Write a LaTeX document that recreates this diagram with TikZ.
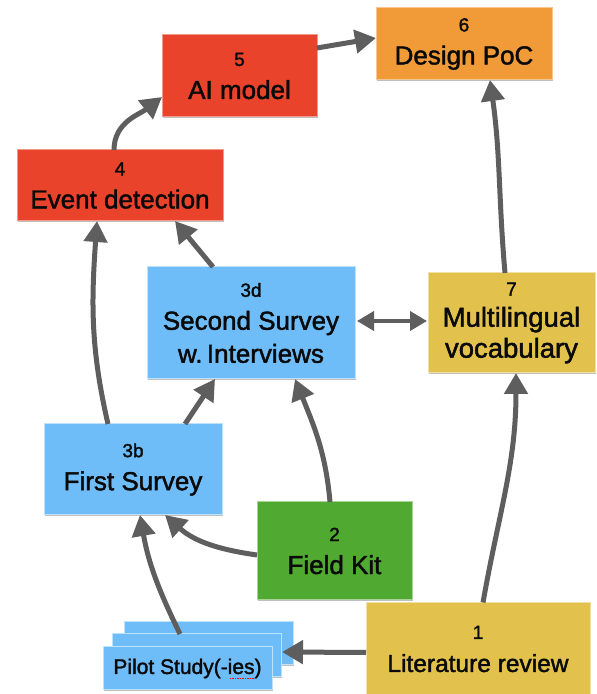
\documentclass[tikz,border=0pt]{standalone}
\usepackage{fontspec}
\setmainfont{Liberation Sans}[FakeBold=1.7]
\usetikzlibrary{arrows.meta,calc,shadows}
\definecolor{cred}{HTML}{E9432B}
\definecolor{corange}{HTML}{F19A38}
\definecolor{cblue}{HTML}{6FBDF8}
\definecolor{cyellow}{HTML}{E2C24C}
\definecolor{cgreen}{HTML}{50AA32}
\definecolor{cgray}{HTML}{5E5E5E}
\definecolor{ctext}{HTML}{0A0A0A}
\newcommand\nlabel[1]{{\fontsize{19}{23}\selectfont #1}}
\frenchspacing
\tikzset{
  box/.style={rectangle, inner sep=0pt, outer sep=0pt, align=center, text=ctext,
    line width=1pt, font=\fontsize{26}{33}\selectfont,
    drop shadow={shadow xshift=0.8pt, shadow yshift=-1.4pt, opacity=0.25, fill=black}},
  redbox/.style={box, fill=cred, draw=cred!55!white},
  orangebox/.style={box, fill=corange, draw=corange!55!white},
  bluebox/.style={box, fill=cblue, draw=cblue!45!white},
  yellowbox/.style={box, fill=cyellow, draw=cyellow!50!white},
  greenbox/.style={box, fill=cgreen, draw=cgreen!50!white},
  pilotbox/.style={bluebox, minimum width=169pt, minimum height=43pt, font=\fontsize{21}{25}\selectfont},
  arr/.style={draw=cgray, line width=5pt, -{Triangle[length=21pt,width=23pt]}},
  darr/.style={draw=cgray, line width=4pt, {Triangle[length=17pt,width=19pt]}-{Triangle[length=17pt,width=19pt]}}
}
\begin{document}
\begin{tikzpicture}[x=1pt,y=1pt]
\useasboundingbox (0,0) rectangle (597,694);
\fill[white] (0,0) rectangle (597,694);

% main boxes
\node[orangebox, minimum width=176pt, minimum height=72pt] (n6) at (464,650) {\nlabel{6}\\Design PoC};
\node[redbox, minimum width=155pt, minimum height=82pt] (n5) at (239.5,618) {\nlabel{5}\\AI model};
\node[redbox, minimum width=206pt, minimum height=71pt] (n4) at (120,508.5) {\nlabel{4}\\Event detection};
\node[bluebox, minimum width=208pt, minimum height=112pt] (n3d) at (251,371) {\nlabel{3d}\\Second Survey\\w.\,Interviews};
\node[yellowbox, minimum width=167pt, minimum height=100pt, font=\fontsize{27.5}{31}\selectfont] (n7) at (511.5,371) {\nlabel{7}\\Multilingual\\vocabulary};
\node[bluebox, minimum width=178pt, minimum height=91pt] (n3b) at (133,224.5) {\nlabel{3b}\\First Survey};
\node[greenbox, minimum width=155pt, minimum height=98pt] (n2) at (334.5,143) {\nlabel{2}\\Field Kit};
\node[yellowbox, minimum width=224pt, minimum height=93pt, font=\fontsize{24.5}{33}\selectfont] (n1) at (478,45) {\nlabel{1}\\Literature review};

% pilot stack
\node[pilotbox] (pb) at (209,51) {};
\node[pilotbox] (pm) at (196.5,38.5) {};
\node[pilotbox] (pf) at (187.5,25.5) {Pilot Study(-ies)};
\draw[red, line width=1pt, dash pattern=on 1.5pt off 1pt] ($(pf.center)+(42,-10)$) -- ++(26,0);

% connectors
\draw[arr] ($(n5.east)+(0,28)$) -- ($(n6.west)+(0,6)$);
\draw[arr] ($(n4.north)+(-6,0)$) to[out=90,in=218] ($(n5.west)+(0,-21)$);
\draw[arr] ($(n3d.north)+(-38,0)$) -- ($(n4.south)+(55,0)$);
\draw[arr] ($(n3b.north)+(-25,0)$) to[out=103,in=266] ($(n4.south)+(-23,0)$);
\draw[arr] ($(n3b.north)+(52,0)$) -- ($(n3d.south)+(-36,0)$);
\draw[darr] ($(n3d.east)+(2,2)$) -- ($(n7.west)+(-1,2)$);
\draw[arr] ($(n7.north)+(-6.5,0)$) to[out=95,in=278] ($(n6.south)+(26,0)$);
\draw[arr] ($(n2.north)+(-4.5,0)$) to[out=95,in=292] ($(n3d.south)+(44,0)$);
\draw[arr] ($(n2.west)+(0,-4)$) to[out=172,in=318] ($(n3b.south)+(32,0)$);
\draw[arr] ($(pm.north)+(-16.5,0)$) to[out=116,in=280] ($(n3b.south)+(7,0)$);
\draw[arr] ($(n1.west)+(0,-3.5)$) -- ($(pm.east)+(1,3.5)$);
\draw[arr] ($(n1.north)+(5,0)$) to[out=80,in=270] ($(n7.south)+(4.5,0)$);
\end{tikzpicture}
\end{document}
